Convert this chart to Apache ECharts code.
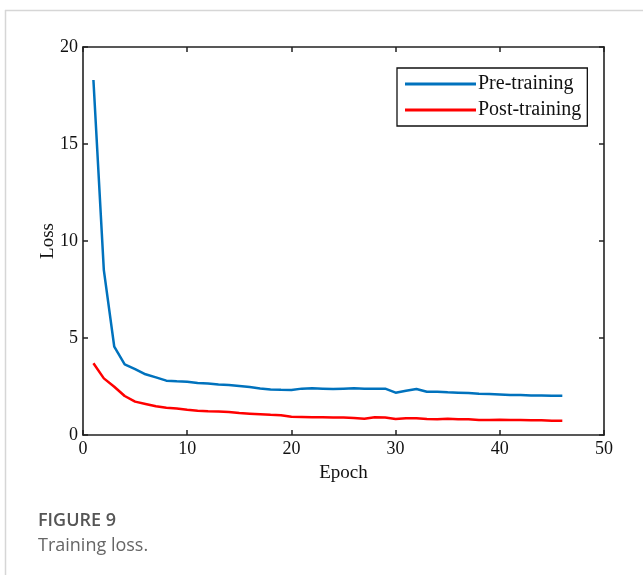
<!DOCTYPE html>
<html>
<head>
<meta charset="utf-8">
<script src="https://cdn.jsdelivr.net/npm/echarts@6/dist/echarts.min.js"></script>
<style>
  html, body { margin: 0; padding: 0; background: #fff; }
  #chart { width: 643px; height: 575px; }
</style>
</head>
<body>
<div id="chart"></div>
<script>
// Training loss per epoch, before and after training
const epochs = [1,2,3,4,5,6,7,8,9,10,11,12,13,14,15,16,17,18,19,20,21,22,23,24,25,26,27,28,29,30,31,32,33,34,35,36,37,38,39,40,41,42,43,44,45,46];
const preTraining = [18.3,8.5,4.55,3.64,3.4,3.13,2.97,2.8,2.77,2.75,2.68,2.65,2.6,2.58,2.53,2.47,2.4,2.35,2.33,2.32,2.39,2.41,2.39,2.37,2.39,2.41,2.39,2.39,2.39,2.18,2.28,2.37,2.23,2.23,2.2,2.18,2.16,2.13,2.11,2.09,2.06,2.06,2.04,2.04,2.02,2.02];
const postTraining = [3.7,2.92,2.49,2.01,1.72,1.6,1.48,1.41,1.36,1.3,1.25,1.22,1.21,1.18,1.13,1.1,1.07,1.04,1.02,0.94,0.93,0.91,0.91,0.9,0.9,0.88,0.84,0.91,0.9,0.82,0.86,0.86,0.82,0.81,0.84,0.81,0.81,0.77,0.77,0.79,0.77,0.77,0.76,0.76,0.74,0.73];
const seriesNames = ['Pre-training', 'Post-training'];

const serif = '"Liberation Serif", "Times New Roman", serif';
const chart = echarts.init(document.getElementById('chart'));

function pairs(ys) { return epochs.map((e, i) => [e, ys[i]]); }
function tickStyle() { return { show: true, inside: true, length: 5, lineStyle: { color: '#222', width: 1.5 } }; }
function axisLine() { return { show: true, onZero: false, lineStyle: { color: '#222', width: 1.6 } }; }

chart.setOption({
  animation: false,
  backgroundColor: '#fff',
  title: {
    text: 'FIGURE 9',
    subtext: 'Training loss.',
    left: 33,
    top: 507,
    itemGap: 7,
    textStyle: { fontFamily: '"Open Sans", sans-serif', fontSize: 18, fontWeight: 600, color: '#555' },
    subtextStyle: { fontFamily: '"Open Sans", sans-serif', fontSize: 18, color: '#666' }
  },
  graphic: [
    { type: 'line', shape: { x1: 5, y1: 10.5, x2: 643, y2: 10.5 }, style: { stroke: '#d6d6d6', lineWidth: 1.5 } },
    { type: 'line', shape: { x1: 5.5, y1: 10, x2: 5.5, y2: 575 }, style: { stroke: '#d6d6d6', lineWidth: 1.5 } }
  ],
  legend: {
    data: seriesNames.map(n => ({ name: n, icon: 'rect' })),
    orient: 'vertical',
    left: 397,
    top: 68,
    padding: [6, 6, 6, 8],
    itemWidth: 71,
    itemHeight: 3,
    itemGap: 6,
    borderColor: '#111',
    borderWidth: 1.3,
    backgroundColor: '#fff',
    textStyle: { fontFamily: serif, fontSize: 20, color: '#111', padding: [0, 0, 0, -3] }
  },
  grid: { left: 83, right: 39, top: 47, bottom: 140, show: false },
  xAxis: [
    {
      type: 'value', min: 0, max: 50, interval: 10, position: 'bottom',
      name: 'Epoch', nameLocation: 'middle', nameGap: 29, nameMoveOverlap: false,
      nameTextStyle: { fontFamily: serif, fontSize: 19, color: '#111' },
      axisLine: axisLine(), axisTick: tickStyle(),
      axisLabel: { fontFamily: serif, fontSize: 18, color: '#111', margin: 5 },
      splitLine: { show: false }
    },
    {
      type: 'value', min: 0, max: 50, interval: 10, position: 'top',
      axisLine: axisLine(), axisTick: tickStyle(),
      axisLabel: { show: false }, splitLine: { show: false }
    }
  ],
  yAxis: [
    {
      type: 'value', min: 0, max: 20, interval: 5, position: 'left',
      name: 'Loss', nameLocation: 'middle', nameGap: 25, nameRotate: 90, nameMoveOverlap: false,
      nameTextStyle: { fontFamily: serif, fontSize: 19, color: '#111' },
      axisLine: axisLine(), axisTick: tickStyle(),
      axisLabel: { fontFamily: serif, fontSize: 18, color: '#111', margin: 5 },
      splitLine: { show: false }
    },
    {
      type: 'value', min: 0, max: 20, interval: 5, position: 'right',
      axisLine: axisLine(), axisTick: tickStyle(),
      axisLabel: { show: false }, splitLine: { show: false }
    }
  ],
  series: [
    {
      name: seriesNames[0], type: 'line', data: pairs(preTraining),
      symbol: 'none', color: '#0072BD',
      lineStyle: { width: 2.5, color: '#0072BD' }
    },
    {
      name: seriesNames[1], type: 'line', data: pairs(postTraining),
      symbol: 'none', color: '#FF0000',
      lineStyle: { width: 2.5, color: '#FF0000' }
    }
  ]
});
</script>
</body>
</html>
